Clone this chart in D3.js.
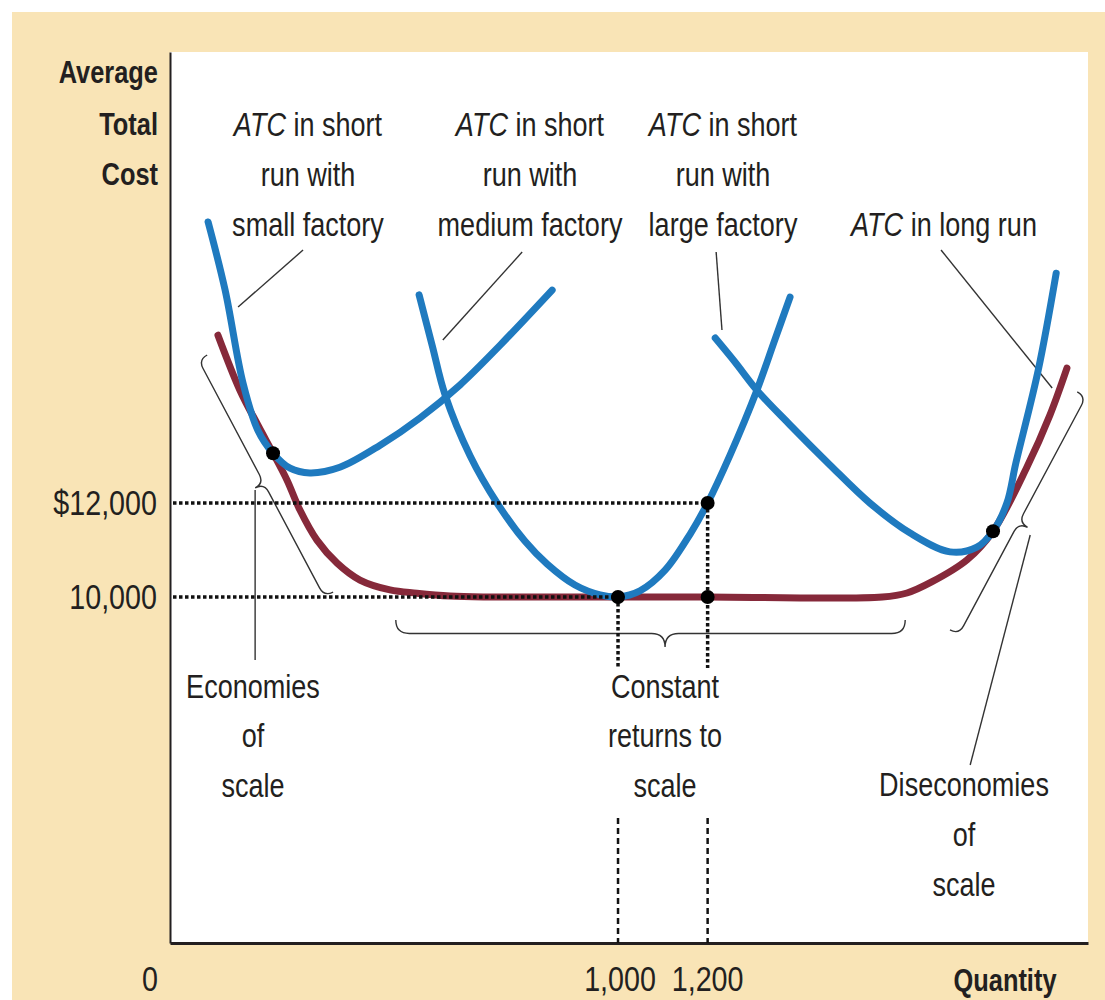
<!DOCTYPE html>
<html><head><meta charset="utf-8">
<script src="https://cdn.jsdelivr.net/npm/d3@7"></script>
<style>
html,body{margin:0;padding:0;background:#fff;}
svg{display:block;}
text{font-family:"Liberation Sans",Arial,sans-serif;fill:#231f20;white-space:pre;}
</style></head><body>
<svg id="chart" width="1105" height="1000"></svg>
<script>
// ---------------- DATA ----------------
const xTickValues = [0, 1000, 1200];
const xTickLabels = ["0", "1,000", "1,200"];
const yTickValues = [12000, 10000];
const yTickLabels = ["$12,000", "10,000"];

// short-run ATC, small factory  [quantity, cost]
const smallFactoryATC = [[85,17980],[123,16530],[163,14550],[196,13550],[230,13060],[268,12740],[312,12640],[379,12760],[469,13230],[558,13810],[647,14510],[737,15360],[853,16530]];
// short-run ATC, medium factory
const mediumFactoryATC = [[556,16430],[585,15360],[614,14300],[670,13000],[730,12000],[792,11190],[842,10700],[904,10255],[960,10045],[1000,10000],[1049,10130],[1105,10570],[1161,11340],[1200,12000],[1250,13020],[1310,14400],[1350,15470],[1384,16380]];
// short-run ATC, large factory
const largeFactoryATC = [[1217,15510],[1261,15000],[1310,14400],[1384,13660],[1473,12810],[1562,12000],[1652,11360],[1741,10960],[1801,11060],[1837,11400],[1868,12000],[1888,12850],[1938,14830],[1978,16890]];
// long-run ATC
const longRunATC = [[107,15570],[156,14400],[196,13660],[230,13060],[261,12490],[290,11850],[328,11210],[373,10720],[424,10360],[491,10150],[551,10080],[625,10020],[700,10000],[1000,10000],[1200,10000],[1590,10000],[1645,10085],[1700,10320],[1779,10790],[1837,11400],[1913,12770],[1964,13870],[2002,14870]];
// highlighted points
const keyPoints = [[230,13060],[1000,10000],[1200,12000],[1200,10000],[1837,11400]];

// ---------------- SETUP ----------------
const svg = d3.select("#chart");
const x = d3.scaleLinear().domain([0, 2049]).range([170, 1088]);
const y = d3.scaleLinear().domain([2638, 21596]).range([943, 52]);
const P = d => [x(d[0]), y(d[1])];

const BEIGE = "#F9E4B6", BLUE = "#1F7ABF", MAROON = "#86293A", INK = "#231f20";
const NARROW = 0.82;

svg.append("rect").attr("width",1105).attr("height",1000).attr("fill","#fff");
svg.append("rect").attr("x",12).attr("y",12).attr("width",1093).attr("height",988).attr("fill",BEIGE);
svg.append("rect").attr("x",x.range()[0]).attr("y",y.range()[1]).attr("width",x.range()[1]-x.range()[0]).attr("height",y.range()[0]-y.range()[1]).attr("fill","#fff");

// axes
const yAxis = svg.append("g").attr("transform",`translate(${x(0)},0)`).call(d3.axisLeft(y).tickValues([]).tickSizeOuter(0));
yAxis.select(".domain").attr("stroke",INK).attr("stroke-width",2);
const xAxis = svg.append("g").attr("transform",`translate(0,${y.range()[0]})`).call(d3.axisBottom(x).tickValues([]).tickSizeOuter(0));
xAxis.select(".domain").attr("stroke",INK).attr("stroke-width",3);

// ---------------- ANNOTATION HELPERS ----------------
const ann = svg.append("g").attr("fill","none").attr("stroke","#333").attr("stroke-width",1.4);
function leader(a, b){
  ann.append("line").attr("x1",x(a[0])).attr("y1",y(a[1])).attr("x2",x(b[0])).attr("y2",y(b[1]));
}
function brace(a, b, tip, h){
  const p1 = P(a), p2 = P(b), t = P(tip);
  const dx = p2[0]-p1[0], dy = p2[1]-p1[1];
  const L = Math.hypot(dx,dy), ux = dx/L, uy = dy/L;
  const m = (t[0]-p1[0])*ux + (t[1]-p1[1])*uy;
  const ang = Math.atan2(dy,dx)*180/Math.PI;
  const r = h;
  const d = `M0,0 Q0,${h} ${r},${h} L${m-r},${h} Q${m},${h} ${m},${2*h} Q${m},${h} ${m+r},${h} L${L-r},${h} Q${L},${h} ${L},0`;
  ann.append("path").attr("transform",`translate(${p1[0]},${p1[1]}) rotate(${ang})`).attr("d",d);
}

// braces
brace([83,15149],[364,10106],[190,12319],10);
brace([504,9511],[1641,9511],[1105,9000],13.5);
brace([1741,9298],[2025,14362],[1913,11489],10);
// leader lines
leader([297,17383],[152,16170]);
leader([786,17340],[609,15468]);
leader([1219,17340],[1232,15681]);
leader([1721,17383],[1969,14447]);
leader([190,12277],[190,8660]);
leader([1920,11319],[1786,6426]);

// ---------------- CURVES ----------------
const line = d3.line().x(d=>x(d[0])).y(d=>y(d[1])).curve(d3.curveCatmullRom.alpha(0.5));
svg.append("path").datum(longRunATC).attr("d",line).attr("fill","none").attr("stroke",MAROON).attr("stroke-width",7).attr("stroke-linecap","round");
[smallFactoryATC, mediumFactoryATC, largeFactoryATC].forEach(s=>{
  svg.append("path").datum(s).attr("d",line).attr("fill","none").attr("stroke",BLUE).attr("stroke-width",7).attr("stroke-linecap","round");
});

// ---------------- GUIDE LINES ----------------
const guides = svg.append("g").attr("stroke","#111").attr("fill","none");
const breakTop = 668, breakBottom = 818;
guides.append("line").attr("x1",x(0)+3).attr("x2",x(1200)).attr("y1",y(12000)).attr("y2",y(12000)).attr("stroke-width",3.5).attr("stroke-dasharray","3.5,2.5");
guides.append("line").attr("x1",x(0)+3).attr("x2",x(1000)).attr("y1",y(10000)).attr("y2",y(10000)).attr("stroke-width",3.5).attr("stroke-dasharray","3.5,2.5");
guides.append("line").attr("x1",x(1000)).attr("x2",x(1000)).attr("y1",y(10000)).attr("y2",breakTop).attr("stroke-width",3.5).attr("stroke-dasharray","3.5,2.5");
guides.append("line").attr("x1",x(1200)).attr("x2",x(1200)).attr("y1",y(12000)).attr("y2",breakTop).attr("stroke-width",3.5).attr("stroke-dasharray","3.5,2.5");
[1000,1200].forEach(v=>{
  guides.append("line").attr("x1",x(v)).attr("x2",x(v)).attr("y1",breakBottom).attr("y2",y.range()[0]).attr("stroke-width",2.5).attr("stroke-dasharray","6,4");
});

// dots
svg.append("g").selectAll("circle").data(keyPoints).join("circle")
  .attr("cx",d=>x(d[0])).attr("cy",d=>y(d[1])).attr("r",7).attr("fill","#000");

// ---------------- TEXT ----------------
const FS = 33;
function txt(cx, by, content, opts={}){
  const tx = svg.append("text").attr("transform",`translate(${cx},${by}) scale(${NARROW},1)`)
    .attr("text-anchor",opts.anchor||"middle").attr("font-size",opts.size||FS)
    .attr("font-weight",opts.bold?"bold":"normal");
  if (content.startsWith("ATC")) {
    tx.append("tspan").attr("font-style","italic").text("ATC");
    tx.append("tspan").text(content.slice(3));
  } else tx.text(content);
  return tx;
}
function block(cx, baselines, lines, opts={}){
  lines.forEach((ln,i)=>txt(cx, baselines[i], ln, opts));
}
block(158,[83,135,185],["Average","Total","Cost"],{anchor:"end",bold:true,size:31});
block(308,[136,186,236],["ATC in short","run with","small factory"]);
block(530,[136,186,236],["ATC in short","run with","medium factory"]);
block(723,[136,186,236],["ATC in short","run with","large factory"]);
block(944,[236],["ATC in long run"]);
block(253,[698,747,797],["Economies","of","scale"]);
block(665,[698,747,797],["Constant","returns to","scale"]);
block(964,[796,846,896],["Diseconomies","of","scale"]);

// y tick labels
yTickValues.forEach((v,i)=>txt(157, y(v)+12, yTickLabels[i], {anchor:"end", size:35}));
// x tick labels
xTickValues.forEach((v,i)=>txt(v===0 ? x(v)-20 : x(v)+(v===1000?2:0), 991, xTickLabels[i], {size:35}));
txt(1005, 991, "Quantity", {bold:true, size:31});
</script>
</body></html>
